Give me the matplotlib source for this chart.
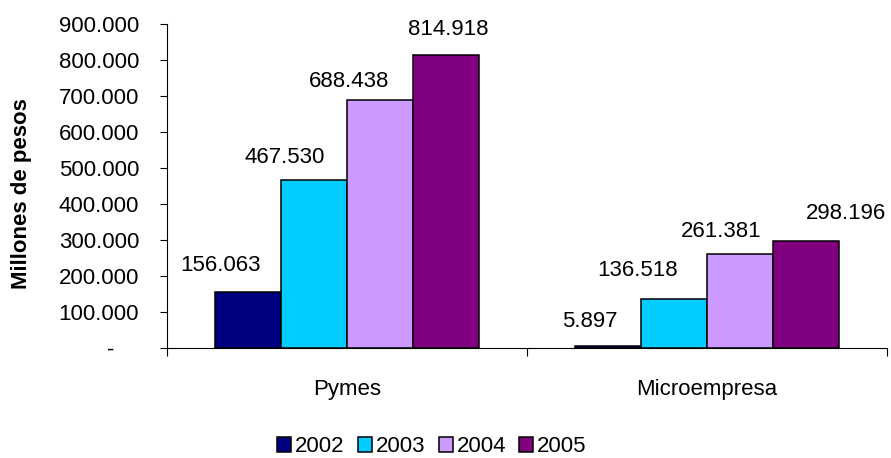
import matplotlib
matplotlib.use("Agg")
import matplotlib.pyplot as plt
import matplotlib.transforms as mtransforms
import numpy as np

plt.rcParams['font.family'] = ['Liberation Sans', 'DejaVu Sans']

categories = ["Pymes", "Microempresa"]
years = ["2002", "2003", "2004", "2005"]
values = {
    "2002": [156063, 5897],
    "2003": [467530, 136518],
    "2004": [688438, 261381],
    "2005": [814918, 298196],
}
colors = ["#000080", "#00CCFF", "#CC99FF", "#800080"]
yticks = [0, 100000, 200000, 300000, 400000, 500000, 600000, 700000, 800000, 900000]

# label placement offsets (pixels) as in the reference
label_dx = {"2002": [-28, -18], "2003": [-29, -36], "2004": [-31, -19], "2005": [2, 40]}
label_dy = {"2002": [21, 19], "2003": [17, 23], "2004": [13, 17], "2005": [20, 22]}

FS = 16
PX = 72 / 100  # points per pixel

def fmt(v):
    return f"{v:,.0f}".replace(",", ".")

fig = plt.figure(figsize=(8.91, 4.58), dpi=100)
ax = fig.add_axes([167/891, 1-348/458, (887-167)/891, (348-24)/458])

x = np.arange(len(categories))
w = 0.183
handles = []
for i, (yr, c) in enumerate(zip(years, colors)):
    pos = x + (i - 1.5) * w
    bars = ax.bar(pos, values[yr], width=w, color=c, edgecolor="black", linewidth=1.1, label=yr, zorder=3)
    handles.append(bars)
    for j, (px, v) in enumerate(zip(pos, values[yr])):
        ax.annotate(fmt(v), (px, v), xytext=(label_dx[yr][j] * PX, label_dy[yr][j] * PX),
                    textcoords="offset points", ha="center", va="baseline", fontsize=FS)

ax.set_xlim(-0.5, 1.5)
ax.set_ylim(0, 900000)
ax.set_yticks(yticks)
ax.set_yticklabels(["-    " if v == 0 else fmt(v) for v in yticks], fontsize=FS)
ax.set_xticks([-0.5, 0.5, 1.5])
ax.set_xticklabels([])
ax.tick_params(axis="x", which="major", length=6, direction="out")
ax.tick_params(axis="y", length=5, direction="out", pad=15)
ax.spines["top"].set_visible(False)
ax.spines["right"].set_visible(False)

trans = mtransforms.blended_transform_factory(ax.transData, fig.transFigure)
for xi, cat in zip(x, categories):
    ax.text(xi, 1 - 395/458, cat, transform=trans, ha="center", va="baseline", fontsize=FS)

fig.text(22/891, 1 - 194/458, "Millones de pesos", rotation=90, ha="center", va="center",
         fontsize=FS, fontweight="bold")

fig.legend(handles=handles, labels=years, loc="center", bbox_to_anchor=(432/891, 1 - 447/458), ncol=4,
           frameon=False, fontsize=FS, handlelength=0.63, handleheight=0.63,
           handletextpad=0.18, columnspacing=0.59, borderaxespad=0, borderpad=0)

fig.savefig("out.png", dpi=100)
